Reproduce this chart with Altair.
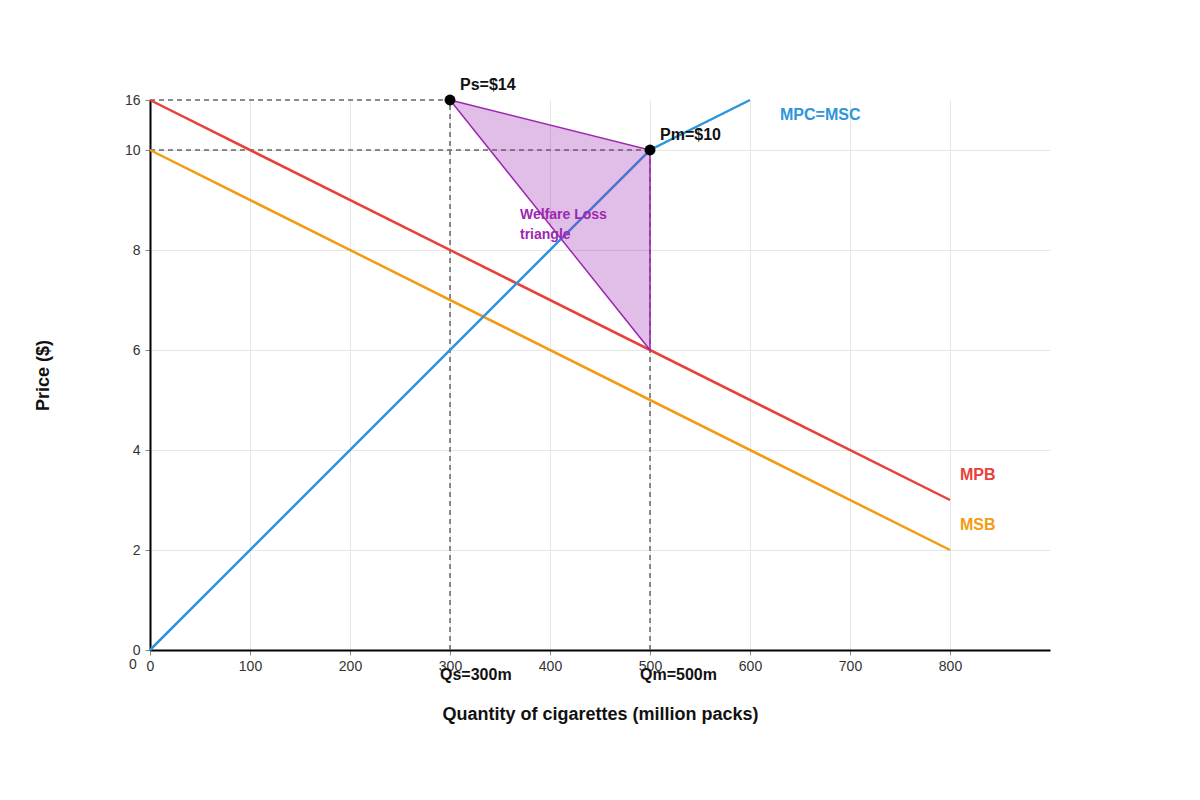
import altair as alt
import pandas as pd

# supply / demand curves (quantity in million packs, price on the chart's own scale)
mpc_q = [0, 500, 600]
mpc_p = [0, 10, 11]
mpb_q = [0, 800]
mpb_p = [11, 3]
msb_q = [0, 800]
msb_p = [10, 2]

# welfare loss triangle: top edge and bottom edge share the same x
tri_q = [300, 500]
tri_top = [11, 10]
tri_bottom = [11, 6]

# equilibrium points
pt_q = [300, 500]
pt_p = [11, 10]

# dashed guide lines (x, y, x2, y2)
guide_x = [0, 0, 300, 500]
guide_y = [11, 10, 0, 0]
guide_x2 = [300, 500, 300, 500]
guide_y2 = [11, 10, 11, 10]

x_ticks = [0, 100, 200, 300, 400, 500, 600, 700, 800]
y_ticks = [0, 2, 4, 6, 8, 10, 11]
y_tick_labels = ['0', '2', '4', '6', '8', '10', '16']

# annotation labels
note_text = ['Ps=$14', 'Pm=$10', 'MPC=MSC', 'MPB', 'MSB', 'Qs=300m', 'Qm=500m']
note_q = [310, 510, 630, 810, 810, 290, 490]
note_p = [11.3, 10.3, 10.7, 3.5, 2.5, -0.5, -0.5]
note_color = ['#111111', '#111111', '#2d95dd', '#e8413c', '#f39c12', '#111111', '#111111']

wl_text = ['Welfare Loss', 'triangle']
wl_q = [370, 370]
wl_p = [8.7, 8.3]

RED = '#e8413c'
ORANGE = '#f39c12'
BLUE = '#2d95dd'
PURPLE = '#9c27b0'

label_expr = ' : '.join(
    "datum.value == {} ? '{}'".format(v, l) for v, l in zip(y_ticks, y_tick_labels)
) + ' : datum.label'

xscale = alt.Scale(domain=[0, 900], nice=False)
yscale = alt.Scale(domain=[0, 11], nice=False)

xaxis = alt.Axis(
    values=x_ticks,
    title='Quantity of cigarettes (million packs)',
    titleFontSize=18,
    titleFontWeight='bold',
    titleColor='#111111',
    titlePadding=32,
    labelFontSize=14,
    labelColor='#333333',
    labelPadding=4,
    labelFlush=False,
    domainColor='#000000',
    domainWidth=2,
    tickColor='#888888',
    tickSize=5,
    gridColor='#e6e6e6',
)
yaxis = alt.Axis(
    values=y_ticks,
    labelExpr=label_expr,
    title='Price ($)',
    titleFontSize=18,
    titleFontWeight='bold',
    titleColor='#111111',
    titlePadding=72,
    labelFontSize=14,
    labelColor='#333333',
    labelPadding=5,
    labelFlush=False,
    domainColor='#000000',
    domainWidth=2,
    tickColor='#888888',
    tickSize=5,
    gridColor='#e6e6e6',
    gridOpacity=alt.condition('datum.value == 11', alt.value(0), alt.value(1)),
)


def curve(q, p, color):
    df = pd.DataFrame({'q': q, 'p': p})
    return alt.Chart(df).mark_line(color=color, strokeWidth=2.5).encode(
        x=alt.X('q:Q', scale=xscale, axis=xaxis),
        y=alt.Y('p:Q', scale=yscale, axis=yaxis),
    )


guides = alt.Chart(pd.DataFrame({
    'q': guide_x, 'p': guide_y, 'q2': guide_x2, 'p2': guide_y2,
})).mark_rule(color='#666666', strokeWidth=1.5, strokeDash=[5, 4]).encode(
    x=alt.X('q:Q', scale=xscale, axis=xaxis),
    y=alt.Y('p:Q', scale=yscale, axis=yaxis),
    x2='q2:Q',
    y2='p2:Q',
)

triangle = alt.Chart(pd.DataFrame({
    'q': tri_q, 'top': tri_top, 'bottom': tri_bottom,
})).mark_area(
    color=PURPLE, fillOpacity=0.3, stroke=PURPLE, strokeWidth=1.5
).encode(
    x=alt.X('q:Q', scale=xscale, axis=xaxis),
    y=alt.Y('top:Q', scale=yscale, axis=yaxis),
    y2='bottom:Q',
)

points = alt.Chart(pd.DataFrame({'q': pt_q, 'p': pt_p})).mark_circle(
    color='#000000', opacity=1, size=120
).encode(
    x=alt.X('q:Q', scale=xscale, axis=xaxis),
    y=alt.Y('p:Q', scale=yscale, axis=yaxis),
)

notes = alt.Chart(pd.DataFrame({
    'q': note_q, 'p': note_p, 'text': note_text, 'color': note_color,
})).mark_text(
    align='left', baseline='middle', fontSize=16, fontWeight='bold'
).encode(
    x=alt.X('q:Q', scale=xscale, axis=xaxis),
    y=alt.Y('p:Q', scale=yscale, axis=yaxis),
    text='text:N',
    color=alt.Color('color:N', scale=None),
)

wl_notes = alt.Chart(pd.DataFrame({
    'q': wl_q, 'p': wl_p, 'text': wl_text,
})).mark_text(
    align='left', baseline='middle', fontSize=14, fontWeight='bold', color=PURPLE
).encode(
    x=alt.X('q:Q', scale=xscale, axis=xaxis),
    y=alt.Y('p:Q', scale=yscale, axis=yaxis),
    text='text:N',
)

# stray origin label left of the x axis
origin = alt.Chart(pd.DataFrame({'q': [0], 'p': [0], 'text': ['0']})).mark_text(
    align='center', baseline='middle', fontSize=14, color='#333333', dx=-17, dy=15
).encode(
    x=alt.X('q:Q', scale=xscale, axis=xaxis),
    y=alt.Y('p:Q', scale=yscale, axis=yaxis),
    text='text:N',
)

chart = alt.layer(
    guides,
    curve(mpb_q, mpb_p, RED),
    curve(msb_q, msb_p, ORANGE),
    curve(mpc_q, mpc_p, BLUE),
    triangle,
    points,
    notes,
    wl_notes,
    origin,
).properties(
    width=900,
    height=550,
    autosize=alt.AutoSizeParams(type='none'),
    padding={'left': 142, 'top': 92, 'right': 140, 'bottom': 140},
).configure(
    font='Liberation Sans',
).configure_view(
    stroke=None,
)

chart.save('out.html', embed_options={'renderer': 'svg', 'actions': False})
